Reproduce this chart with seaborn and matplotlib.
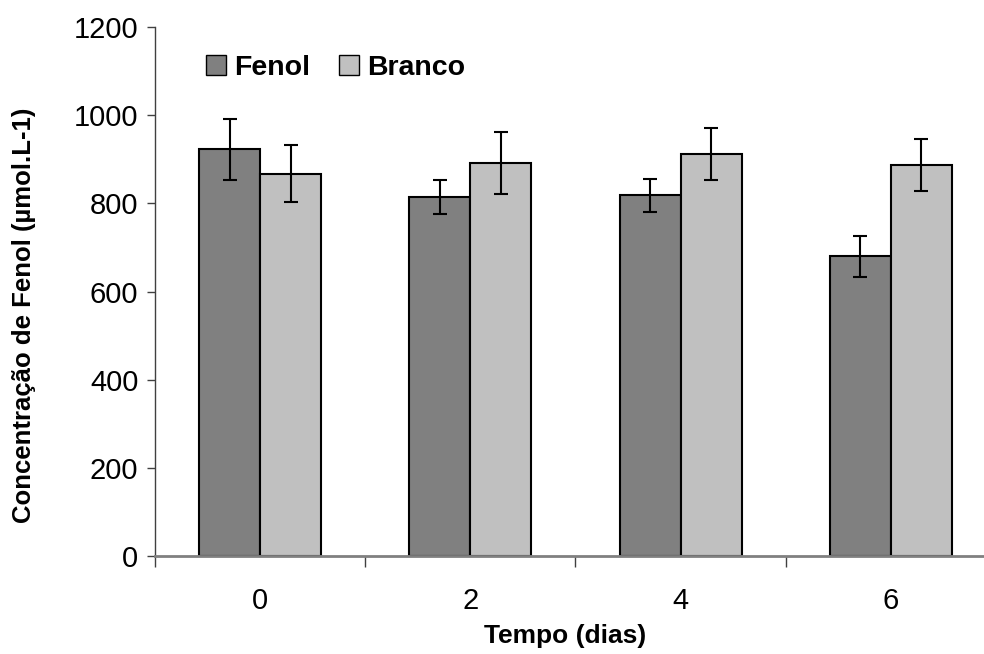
import numpy as np
import pandas as pd
import seaborn as sns
import matplotlib.pyplot as plt
from matplotlib.patches import Patch

# values
dias = ['0', '2', '4', '6']
fenol = [923, 814, 818, 680]
fenol_err = [69, 39, 37, 46]
branco = [867, 892, 912, 887]
branco_err = [65, 70, 60, 59]
series = ['Fenol', 'Branco']
cores = ['#808080', '#c0c0c0']

df = pd.DataFrame({
    'dia': dias * 2,
    'conc': fenol + branco,
    'grupo': ['Fenol'] * 4 + ['Branco'] * 4,
})

sns.set_style('white')
plt.rcParams['font.family'] = ['Liberation Sans', 'DejaVu Sans']
plt.rcParams['text.color'] = 'black'
plt.rcParams['axes.labelcolor'] = 'black'
plt.rcParams['xtick.color'] = 'black'
plt.rcParams['ytick.color'] = 'black'

fig = plt.figure(figsize=(9.84, 6.54), dpi=100)
ax = fig.add_axes([0.1575, 0.1498, 0.8547, 0.8089])

sns.barplot(data=df, x='dia', y='conc', hue='grupo', hue_order=series,
            palette=cores, width=0.58, edgecolor='black', linewidth=1.5,
            errorbar=None, legend=False, ax=ax)

# error bars at the bar centres
errs = fenol_err + branco_err
vals = fenol + branco
centres = [p.get_x() + p.get_width() / 2 for p in ax.patches[:8]]
ax.errorbar(centres, vals, yerr=errs, fmt='none', ecolor='black',
            elinewidth=1.5, capsize=5, capthick=1.5, zorder=5)

ax.set_ylim(0, 1200)
ax.set_xlim(-0.5, 3.5)
ax.set_yticks(range(0, 1201, 200))
ax.tick_params(axis='y', labelsize=21, length=6, width=1, direction='out',
               left=True, color='#404040', pad=6)
ax.tick_params(axis='x', labelsize=21, length=0, pad=22)
ax.set_xticks([-0.5, 0.5, 1.5, 2.5], minor=True)
ax.tick_params(axis='x', which='minor', length=8, width=1, bottom=True,
               color='#404040')

for s in ['top', 'right']:
    ax.spines[s].set_visible(False)
ax.spines['left'].set_color('#404040')
ax.spines['left'].set_linewidth(1)
ax.spines['bottom'].set_color('#808080')
ax.spines['bottom'].set_linewidth(2)

ax.set_xlabel('Tempo (dias)', fontsize=19, fontweight='bold')
ax.set_ylabel('Concentração de Fenol (µmol.L-1)', fontsize=18.5,
              fontweight='bold')
ax.xaxis.set_label_coords(0.4875, -0.128)
ax.yaxis.set_label_coords(-0.142, 0.455)

handles = [Patch(facecolor=c, edgecolor='black', linewidth=1) for c in cores]
ax.legend(handles, series, loc='upper left', bbox_to_anchor=(0.03, 0.995),
          frameon=False, ncol=2, prop={'weight': 'bold', 'size': 20.5},
          handlelength=0.7, handleheight=0.7, handletextpad=0.3,
          columnspacing=1.0)

fig.savefig('out.png', dpi=100)
